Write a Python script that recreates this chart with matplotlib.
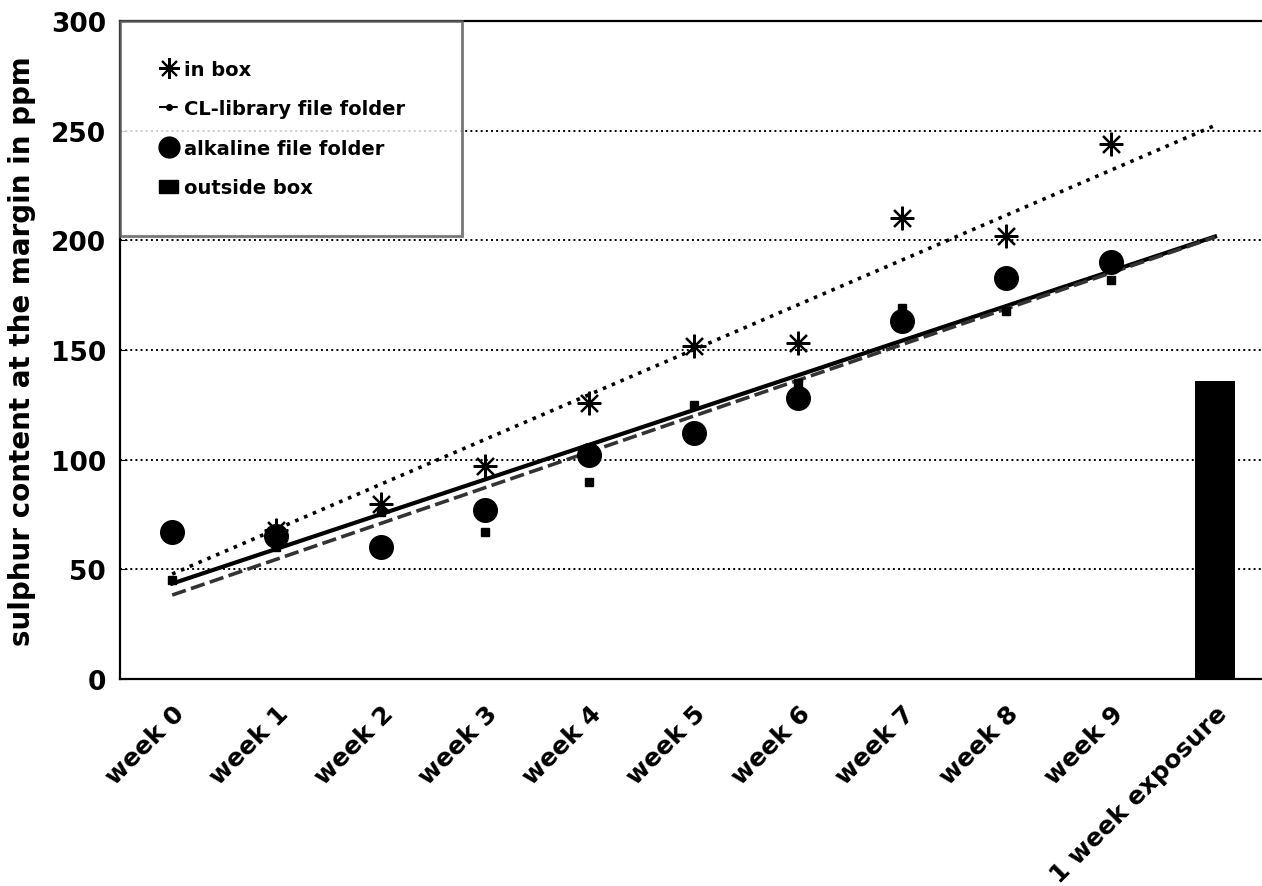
import numpy as np
import matplotlib
matplotlib.use("Agg")
import matplotlib.pyplot as plt
from matplotlib.lines import Line2D
from matplotlib.patches import Patch

# categories on the x axis
categories = ["week 0", "week 1", "week 2", "week 3", "week 4", "week 5",
              "week 6", "week 7", "week 8", "week 9", "1 week exposure"]

# weekly measurements (weeks 0-9), sulphur content in ppm
in_box = [67, 68, 80, 97, 126, 152, 153, 210, 202, 244]
cl_library = [45, 60, 76, 67, 90, 125, 135, 169, 168, 182]
alkaline = [67, 65, 60, 77, 102, 112, 128, 163, 183, 190]

# single bar for the 1 week exposure outside the box
outside_box = 136

y_ticks = [0, 50, 100, 150, 200, 250, 300]

plt.rcParams['font.family'] = ['DejaVu Sans']
plt.rcParams['font.weight'] = 'bold'

fig = plt.figure(figsize=(12.62, 8.87), dpi=100)
ax = fig.add_axes([0.0951, 0.2334, 0.909, 0.7418])

weeks = np.arange(len(in_box))
x_all = np.arange(len(categories))

# linear trend lines, fitted on the weekly data and extended to the last category
x_fit = np.array([0, len(categories) - 1])
for data, ls, lw, col in [(in_box, ':', 2.6, 'black'),
                          (alkaline, '-', 3.0, 'black'),
                          (cl_library, (0, (4, 1.5)), 2.6, '#333333')]:
    k, b = np.polyfit(weeks, data, 1)
    ax.plot(x_fit, k * x_fit + b, ls=ls, lw=lw, color=col, zorder=3)

# the data points
l_box, = ax.plot(weeks, in_box, ls='none', marker=(8, 2, 0), ms=17, mew=1.6,
                 color='black', zorder=5, label='in box')
l_cl, = ax.plot(weeks, cl_library, ls='none', marker='s', ms=6,
                color='black', zorder=5, label='CL-library file folder')
l_alk, = ax.plot(weeks, alkaline, ls='none', marker='o', ms=17,
                 color='black', zorder=4, label='alkaline file folder')
ax.bar([x_all[-1]], [outside_box], width=0.38, color='black', zorder=4)

ax.set_xlim(-0.5, 10.5)
ax.set_ylim(0, 300)
ax.set_yticks(y_ticks)
ax.set_xticks(x_all)
ax.set_xticklabels(categories, rotation=45, ha='right', va='top',
                   rotation_mode='anchor', fontsize=18, fontweight='bold')
ax.tick_params(axis='x', length=0, pad=16)
ax.tick_params(axis='y', direction='in', length=5, labelsize=19, pad=10)
for lab in ax.get_yticklabels():
    lab.set_fontweight('bold')

ax.yaxis.grid(True, linestyle=':', color='black', lw=1.4)
ax.set_axisbelow(True)

for side in ['left', 'bottom', 'top']:
    ax.spines[side].set_linewidth(1.6)
ax.spines['right'].set_visible(False)

ax.set_ylabel("sulphur content at the margin in ppm", fontsize=20,
              fontweight='bold', labelpad=11)

handles = [
    Line2D([], [], ls='none', marker=(8, 2, 0), ms=15, mew=1.5, color='black'),
    Line2D([], [], ls='--', lw=1.5, marker='o', ms=4, color='black'),
    Line2D([], [], ls='none', marker='o', ms=15, color='black'),
    Patch(facecolor='black', edgecolor='black'),
]
labels = [l_box.get_label(), l_cl.get_label(), l_alk.get_label(), 'outside box']
leg = ax.legend(handles, labels, loc='upper left', bbox_to_anchor=(0, 0, 0.298, 1),
                mode='expand', borderaxespad=0, frameon=True, fancybox=False,
                prop={'size': 14, 'weight': 'bold'}, handlelength=1.0,
                handletextpad=0.3, labelspacing=1.05, borderpad=2.0)
leg.get_frame().set_edgecolor('#555555')
leg.get_frame().set_linewidth(2.0)
leg.set_zorder(10)

fig.savefig("out.png", dpi=100)
